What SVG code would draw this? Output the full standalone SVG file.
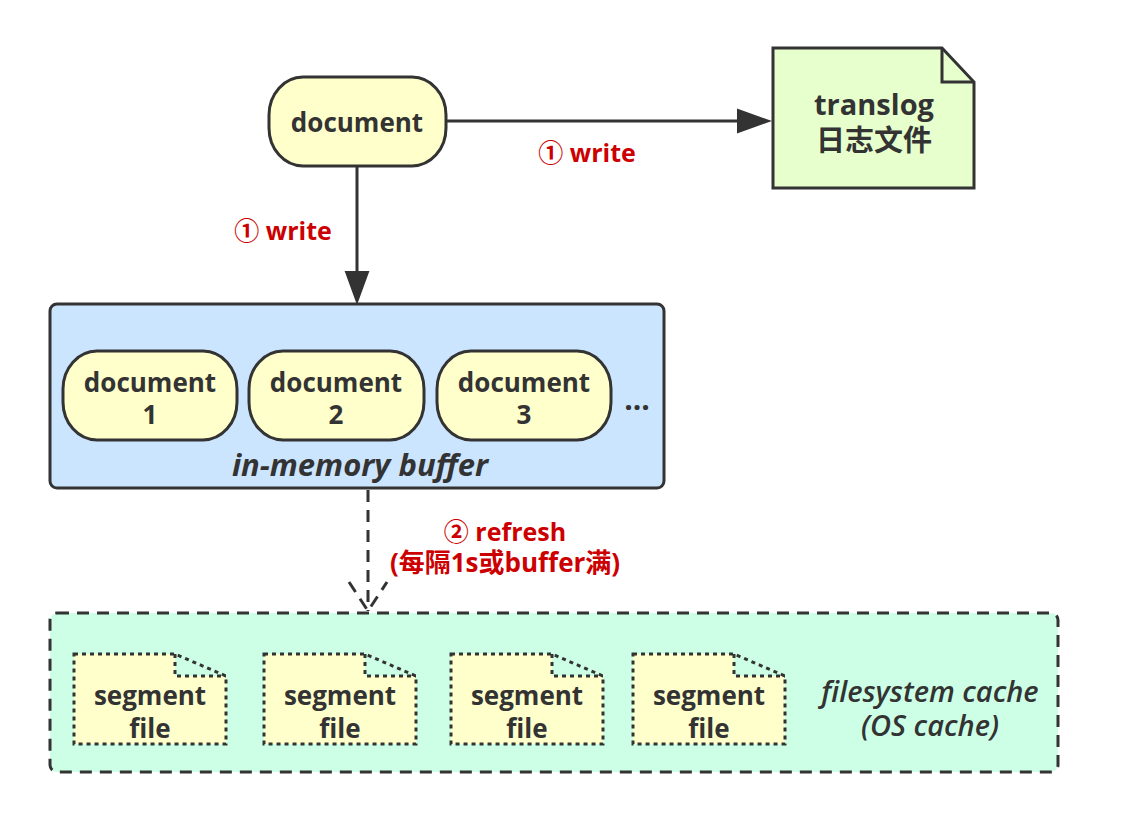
<svg xmlns="http://www.w3.org/2000/svg" width="1138" height="822" viewBox="0 0 1138 822">
<style>
.bg{fill:#ffffff}
.doc{fill:#ffffcc;stroke:#333333;stroke-width:3}
.t{font-family:"Open Sans","Noto Sans CJK SC",sans-serif;font-weight:bold;font-size:26px;fill:#333333;text-anchor:middle}
.big{font-size:29px}
.lbl{font-family:"Open Sans","Noto Sans CJK SC",sans-serif;font-weight:bold;font-size:25px;fill:#cc0000;text-anchor:middle}
.it{font-style:italic}
.seg{fill:#ffffcc;stroke:#333333;stroke-width:3;stroke-dasharray:4 4}
.conn{stroke:#333333;stroke-width:3;fill:none}
.dash{stroke-dasharray:12 8}
.head{fill:#333333;stroke:#333333;stroke-width:2}
</style>
<rect class="bg" x="0" y="0" width="1138" height="822"/>

<g id="filesystem-cache">
<rect x="50" y="613" width="1008" height="159" rx="7" fill="#ccffe6" stroke="#333333" stroke-width="3" stroke-dasharray="12 8"/>
<text class="t it" x="930" y="702" style="font-size:29px;font-weight:600">filesystem cache</text>
<text class="t it" x="930" y="736" style="font-size:29px;font-weight:600">(OS cache)</text>
</g>

<g id="segment1">
<path class="seg" d="M74,654 L175,654 L226,676 L226,744 L74,744 Z M175,654 L175,676 L226,676"/>
<text class="t" x="150" y="705">segment</text>
<text class="t" x="150" y="738">file</text>
</g>
<g id="segment2">
<path class="seg" d="M264,654 L365,654 L416,676 L416,744 L264,744 Z M365,654 L365,676 L416,676"/>
<text class="t" x="340" y="705">segment</text>
<text class="t" x="340" y="738">file</text>
</g>
<g id="segment3">
<path class="seg" d="M451,654 L552,654 L603,676 L603,744 L451,744 Z M552,654 L552,676 L603,676"/>
<text class="t" x="527" y="705">segment</text>
<text class="t" x="527" y="738">file</text>
</g>
<g id="segment4">
<path class="seg" d="M633,654 L734,654 L785,676 L785,744 L633,744 Z M734,654 L734,676 L785,676"/>
<text class="t" x="709" y="705">segment</text>
<text class="t" x="709" y="738">file</text>
</g>

<g id="buffer">
<rect x="50" y="304" width="614" height="184" rx="7" fill="#cce5ff" stroke="#333333" stroke-width="3"/>
<text class="t it" x="360" y="476" style="font-size:31px">in-memory buffer</text>
<text class="t" x="637" y="410" style="font-size:30px">...</text>
</g>

<g id="doc1">
<rect class="doc" x="63" y="351" width="174" height="89" rx="34" ry="38"/>
<text class="t" x="150" y="392">document</text>
<text class="t" x="150" y="424">1</text>
</g>
<g id="doc2">
<rect class="doc" x="249" y="351" width="175" height="89" rx="34" ry="38"/>
<text class="t" x="336" y="392">document</text>
<text class="t" x="336" y="424">2</text>
</g>
<g id="doc3">
<rect class="doc" x="437" y="351" width="174" height="89" rx="34" ry="38"/>
<text class="t" x="524" y="392">document</text>
<text class="t" x="524" y="424">3</text>
</g>

<g id="document">
<rect class="doc" x="269" y="77" width="177" height="89" rx="34" ry="38"/>
<text class="t" x="357" y="132">document</text>
</g>

<g id="translog">
<path d="M773,48 L942,48 L974,82 L974,188 L773,188 Z" fill="#e6ffcc" stroke="#333333" stroke-width="3"/>
<path d="M942,48 L942,82 L974,82" fill="none" stroke="#333333" stroke-width="3"/>
<text class="t big" x="874" y="115">translog</text>
<text class="t big" x="874" y="151">日志文件</text>
</g>

<g id="connectors">
<line class="conn" x1="446" y1="121" x2="740" y2="121"/>
<polygon class="head" points="738,110 769,121 738,132"/>
<line class="conn" x1="357" y1="166" x2="357" y2="274"/>
<polygon class="head" points="346,272 357,302 368,272"/>
<line class="conn dash" x1="368" y1="490" x2="368" y2="611"/>
<path class="conn dash" d="M349,582 L368,611 L387,582"/>
<text class="lbl" x="587" y="162">① write</text>
<text class="lbl" x="283" y="240">① write</text>
<text class="lbl" x="505" y="541">② refresh</text>
<text class="lbl" x="505" y="572" style="font-size:26px">(每隔1s或buffer满)</text>
</g>
</svg>
